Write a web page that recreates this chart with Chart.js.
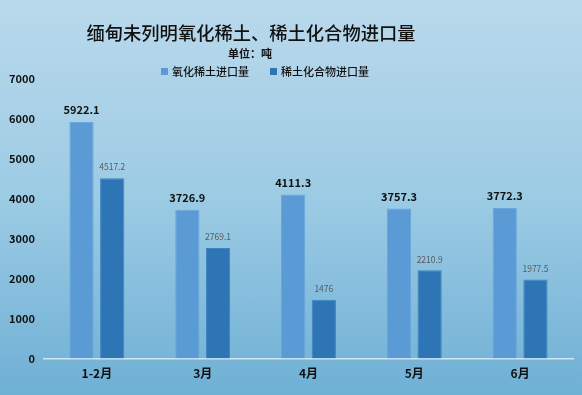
<!DOCTYPE html>
<html><head><meta charset="utf-8">
<script src="https://cdn.jsdelivr.net/npm/chart.js@4/dist/chart.umd.min.js"></script>
<style>
html,body{margin:0;padding:0;}
body{width:582px;height:395px;background:linear-gradient(to bottom,#bad9ec 0%,#9ccbe4 50%,#6fb0d5 100%);overflow:hidden;}
#wrap{position:relative;width:582px;height:395px;}
</style></head>
<body><div id="wrap"><canvas id="c" width="582" height="395"></canvas></div>
<script>
const categories = ['1-2月','3月','4月','5月','6月'];
const oxideImports = [5922.1, 3726.9, 4111.3, 3757.3, 3772.3];
const compoundImports = [4517.2, 2769.1, 1476, 2210.9, 1977.5];
const seriesNames = ['氧化稀土进口量','稀土化合物进口量'];
const titleText = '缅甸未列明氧化稀土、稀土化合物进口量';
const unitText = '单位：吨';
const yTicks = [0,1000,2000,3000,4000,5000,6000,7000];
const seriesColors = ['#5b9bd5','#2e75b6'];

const FONT = '"Noto Sans CJK SC", "Noto Sans", sans-serif';

const headerPlugin = {
  id:'header',
  afterDraw(chart){
    const ctx = chart.ctx;
    ctx.save();
    ctx.fillStyle='#111';
    ctx.textBaseline='middle';
    ctx.textAlign='center';
    ctx.font='500 18.3px '+FONT;
    ctx.fillText(titleText, 251, 33);
    ctx.font='bold 11px '+FONT;
    ctx.fillText(unitText, 250, 54);
    // legend
    ctx.textAlign='left';
    ctx.font='500 11px '+FONT;
    const lx=[161,270];
    chart.data.datasets.forEach((ds,i)=>{
      ctx.fillStyle=ds.backgroundColor;
      ctx.fillRect(lx[i],68,7,7);
      ctx.fillStyle='#111';
      ctx.fillText(ds.label, lx[i]+11, 72);
    });
    ctx.restore();
  }
};

const labelPlugin = {
  id:'barLabels',
  afterDatasetsDraw(chart){
    const ctx = chart.ctx;
    chart.data.datasets.forEach((ds,i)=>{
      const meta = chart.getDatasetMeta(i);
      meta.data.forEach((bar,j)=>{
        ctx.save();
        ctx.textAlign='center';
        ctx.textBaseline='middle';
        if(i===0){ ctx.font='bold 11px '+FONT; ctx.fillStyle='#111'; ctx.fillText(String(ds.data[j]), bar.x, bar.y-12); }
        else { ctx.font='8.5px '+FONT; ctx.fillStyle='#5a5a5a'; ctx.fillText(String(ds.data[j]), bar.x, bar.y-11); }
        ctx.restore();
      });
    });
  }
};

new Chart(document.getElementById('c'),{
  type:'bar',
  data:{labels:categories,datasets:[
    {label:seriesNames[0],data:oxideImports,backgroundColor:seriesColors[0],borderColor:'#6aa6dc',borderWidth:1,categoryPercentage:0.58,barPercentage:0.79},
    {label:seriesNames[1],data:compoundImports,backgroundColor:seriesColors[1],borderColor:'#3d83c2',borderWidth:1,categoryPercentage:0.58,barPercentage:0.79}
  ]},
  options:{
    responsive:false,animation:false,
    layout:{padding:{left:0,right:9,top:79,bottom:6}},
    plugins:{
      title:{display:false},
      legend:{display:false},
      tooltip:{enabled:false}
    },
    scales:{
      x:{grid:{display:false,drawTicks:false},border:{display:true,color:'#d2e6f2',width:1.5},
         ticks:{color:'#111',font:{family:FONT,size:12,weight:'bold'},padding:8}},
      y:{min:0,max:7000,afterBuildTicks(s){s.ticks=yTicks.map(v=>({value:v}));},
         grid:{display:false,drawTicks:false},border:{display:false},
         ticks:{color:'#111',font:{family:FONT,size:11,weight:'bold'},padding:9,callback:v=>String(v)}}
    }
  },
  plugins:[labelPlugin,headerPlugin]
});
</script></body></html>
